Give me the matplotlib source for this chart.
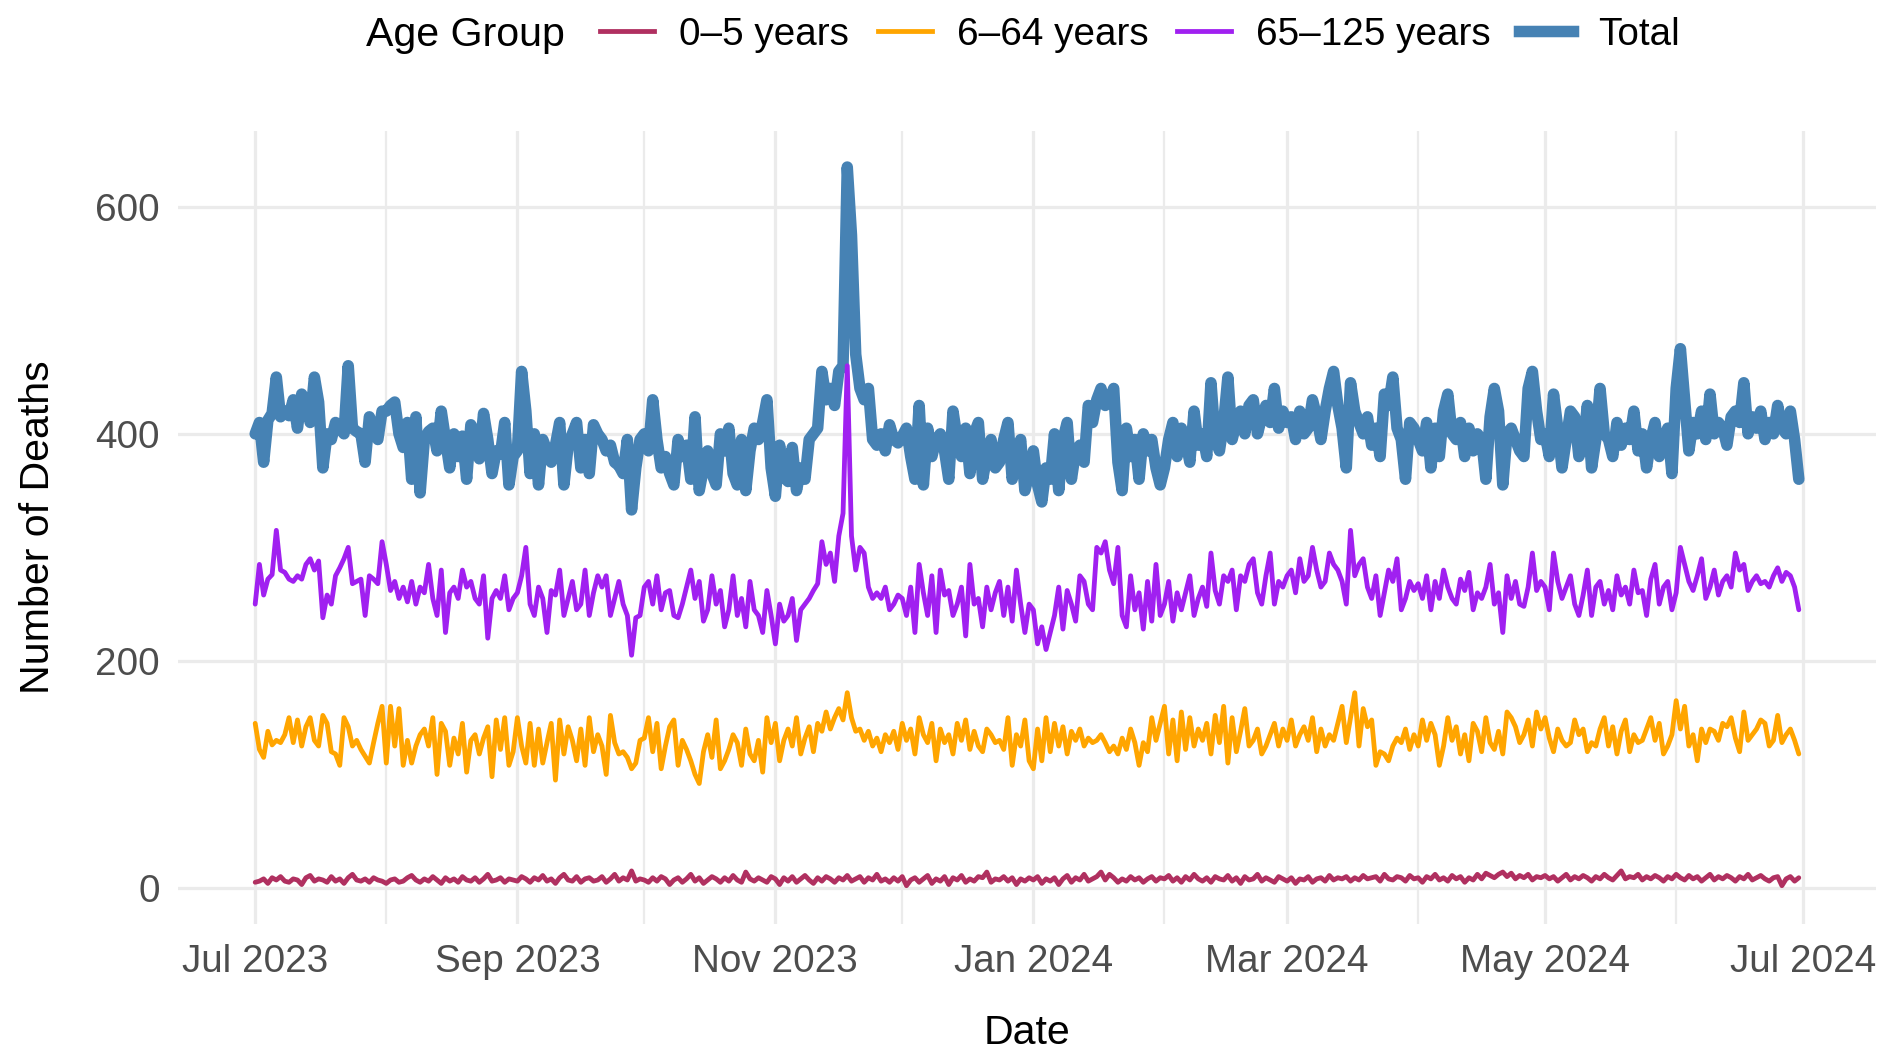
import numpy as np
import pandas as pd
import matplotlib
matplotlib.use("Agg")
import matplotlib.pyplot as plt
import matplotlib.dates as mdates
from matplotlib.lines import Line2D

# ---------------- data (daily deaths, 2023-07-01 .. 2024-06-30) ----------------
start_date = "2023-07-01"

deaths_total = [
    # Jul
    400,410,375,412,418,450,415,420,416,430,405,435,428,410,450,428,370,400,395,410,405,400,460,405,402,400,375,415,405,395,420,
    # Aug
    420,425,428,400,388,410,360,415,348,395,402,405,385,420,395,370,400,380,398,360,408,400,378,418,395,365,385,382,410,355,380,
    # Sep
    385,455,420,365,400,355,395,385,375,390,410,355,390,400,410,370,395,365,408,400,395,385,390,375,372,365,395,333,370,395,
    # Oct
    400,385,430,395,370,380,365,355,395,380,390,360,415,350,370,385,365,355,400,385,405,365,355,395,350,385,405,395,410,430,370,
    # Nov
    345,390,362,358,388,350,370,360,395,400,405,455,430,440,425,455,460,635,575,470,440,430,440,395,390,400,385,408,395,392,
    # Dec
    398,405,380,360,425,355,405,380,395,400,385,360,420,395,380,405,365,400,410,360,380,395,370,375,395,410,360,380,395,350,365,
    # Jan
    385,355,340,370,360,400,350,395,410,360,385,390,375,425,410,430,440,425,430,440,375,350,405,380,395,360,400,385,395,370,355,
    # Feb
    370,395,410,380,405,395,375,420,390,400,380,445,395,385,410,450,395,410,420,400,425,430,400,415,425,410,440,405,420,
    # Mar
    410,415,395,420,400,405,430,415,395,420,440,455,425,405,370,445,420,410,400,415,390,405,380,435,425,450,405,395,360,410,405,
    # Apr
    395,385,410,370,405,380,420,435,400,395,410,380,405,385,400,395,360,415,440,420,355,400,405,395,385,380,440,455,420,395,
    # May
    400,380,435,405,370,395,420,415,380,390,425,370,395,440,400,395,380,410,390,405,395,420,385,400,370,395,410,380,395,405,365,
    # Jun
    440,475,430,385,410,400,420,395,435,400,410,405,390,415,420,410,445,400,415,405,420,395,410,400,425,405,400,420,395,360,
]

deaths_65_125 = [
    250,285,258,272,276,315,280,278,272,270,275,272,285,290,280,288,238,258,250,275,282,290,300,268,270,272,240,275,272,268,305,
    285,262,270,255,265,252,270,250,265,260,285,255,240,280,225,260,265,255,280,265,270,255,250,275,220,255,262,255,275,245,255,
    260,275,300,250,240,265,255,225,262,258,280,240,255,270,245,250,280,240,260,275,265,275,240,255,270,250,240,205,238,240,
    265,270,250,275,245,260,262,240,238,250,265,280,255,270,235,245,275,250,262,230,245,275,240,255,230,270,245,240,225,262,240,
    215,250,235,240,255,218,245,250,255,262,268,305,285,295,270,310,330,460,310,280,300,295,265,255,260,255,265,245,250,258,
    255,240,265,225,285,260,240,275,225,280,258,262,240,250,265,222,285,250,255,230,265,245,260,270,240,265,235,280,250,225,250,
    245,215,230,210,225,240,265,228,262,250,235,275,270,250,245,300,295,305,280,268,300,240,230,275,245,260,228,270,235,285,240,
    250,270,235,260,245,260,275,240,255,265,248,295,262,250,275,270,280,245,275,270,285,290,260,250,275,295,250,270,265,
    275,280,260,290,270,275,300,280,265,270,295,285,280,270,250,315,275,285,290,265,255,275,240,260,280,270,290,245,255,270,262,
    268,255,275,245,270,255,280,265,255,250,272,262,278,245,260,255,265,285,250,260,225,275,255,270,250,248,265,295,262,270,
    265,245,295,270,255,265,275,250,240,258,280,240,265,270,250,262,245,275,258,265,250,280,260,262,240,272,285,250,265,270,245,
    260,300,285,270,262,275,290,255,265,280,258,270,275,265,295,280,285,262,270,275,268,270,265,275,282,270,278,275,265,245,
]

deaths_6_64 = [
    145,122,115,138,126,130,128,135,150,128,148,125,142,150,130,125,152,145,120,118,108,150,142,125,130,122,116,110,128,145,160,
    110,160,125,158,108,130,110,125,135,140,125,150,100,145,138,108,132,118,145,102,130,135,118,132,142,98,148,122,150,108,120,
    150,125,110,145,108,140,110,128,145,95,148,118,142,130,112,140,108,150,120,135,125,100,152,128,118,120,115,105,110,130,
    132,150,120,145,105,125,142,148,108,130,122,112,100,92,120,135,115,148,105,112,122,135,128,108,140,118,112,130,102,150,128,
    145,112,130,140,125,150,118,132,142,120,145,138,155,140,150,158,148,172,150,138,140,130,138,125,132,120,135,128,138,122,
    145,130,140,118,150,135,128,145,112,140,128,135,118,145,130,148,122,138,125,120,140,135,128,130,122,150,108,135,125,148,112,
    105,140,112,150,120,145,125,142,118,138,130,140,125,132,128,130,135,128,120,125,118,132,122,140,128,108,128,120,150,130,145,
    160,118,148,112,155,122,150,125,140,130,145,118,152,128,160,110,150,120,138,158,125,130,140,118,125,135,145,125,140,
    130,148,125,135,142,130,150,120,140,125,135,130,145,160,128,150,172,125,158,142,148,108,120,118,112,125,132,128,140,122,135,
    125,148,130,145,135,108,125,150,130,142,118,135,112,145,138,120,150,128,122,138,118,155,150,142,128,135,148,125,155,140,
    150,132,120,140,130,125,128,148,135,140,120,128,125,140,150,125,142,118,138,148,120,135,128,130,140,150,130,145,118,125,135,
    165,140,160,125,135,112,140,128,140,138,130,145,142,150,132,120,155,130,135,140,148,145,125,130,152,128,135,140,130,118,
]

deaths_0_5 = [
    5,6,8,4,9,7,10,6,5,8,7,3,9,11,6,8,7,5,10,6,8,4,9,12,7,6,8,5,9,7,6,
    4,7,8,5,6,9,11,7,5,8,6,10,7,4,9,6,8,5,10,7,6,9,5,8,12,6,7,9,5,8,7,
    6,10,8,5,9,7,11,6,8,4,9,12,7,6,10,5,8,9,6,7,10,5,8,12,6,9,7,15,6,8,
    7,5,9,6,10,8,3,7,9,5,8,12,6,9,4,7,10,8,5,9,6,11,7,5,14,8,6,9,7,5,10,
    8,3,9,6,10,5,8,11,7,4,9,6,10,8,5,9,7,11,6,8,10,5,9,7,12,6,8,5,9,6,
    10,2,7,9,5,8,11,4,8,6,10,3,9,7,11,5,8,6,10,9,14,5,8,7,10,6,9,3,8,6,9,
    7,10,4,8,6,9,3,8,11,5,9,7,12,6,8,10,14,7,12,9,5,8,6,10,7,9,5,8,10,6,9,
    8,11,6,9,5,10,7,12,8,6,9,5,10,8,7,11,6,9,4,10,7,8,12,6,9,7,5,10,8,
    6,9,4,8,7,10,5,8,9,6,11,7,9,8,10,6,9,7,11,8,9,10,6,12,8,7,10,9,6,11,8,
    9,5,10,8,12,7,9,6,11,8,10,5,9,7,12,8,13,11,9,12,14,10,13,8,11,9,12,7,10,9,
    11,8,10,6,9,12,7,10,8,11,9,6,10,8,12,9,7,11,15,8,10,9,12,7,10,8,11,9,6,10,8,
    12,9,7,11,8,10,6,9,12,7,10,8,11,9,6,10,8,12,7,9,11,8,6,9,10,2,8,10,6,9,
]

series_labels = ["0\u20135 years", "6\u201364 years", "65\u2013125 years", "Total"]
y_ticks = [0, 200, 400, 600]
x_major = ["2023-07-01", "2023-09-01", "2023-11-01", "2024-01-01", "2024-03-01", "2024-05-01", "2024-07-01"]
x_minor = ["2023-08-01", "2023-10-01", "2023-12-01", "2024-02-01", "2024-04-01", "2024-06-01"]

# ---------------- styling ----------------
colors = {"0\u20135 years": "#B03060", "6\u201364 years": "#FFA500",
          "65\u2013125 years": "#A020F0", "Total": "#4682B4"}
plt.rcParams["font.family"] = ["Liberation Sans", "DejaVu Sans"]

DPI = 200
fig = plt.figure(figsize=(1892 / DPI, 1062 / DPI), dpi=DPI)
ax = fig.add_axes([178 / 1892, 1 - 924 / 1062, (1876 - 178) / 1892, (924 - 131) / 1062])

def px(p):
    return p * 72.0 / DPI

THIN = 4.8
THICK = 11.5

data = {
    "0\u20135 years": deaths_0_5,
    "6\u201364 years": deaths_6_64,
    "65\u2013125 years": deaths_65_125,
    "Total": deaths_total,
}

# Total drawn underneath, thin series above
for lab, z, lw in [("Total", 2, THICK), ("0\u20135 years", 3, THIN),
                   ("6\u201364 years", 3, THIN), ("65\u2013125 years", 3, THIN)]:
    vals = data[lab]
    d = pd.date_range(start_date, periods=len(vals), freq="D")
    ax.plot(d, vals, color=colors[lab], lw=px(lw), zorder=z,
            solid_joinstyle="round", solid_capstyle="round")

t0 = pd.Timestamp(start_date)
t1 = t0 + pd.Timedelta(days=len(deaths_total) - 1)
span = (t1 - t0).days
pad = pd.Timedelta(days=span * 0.05)
ax.set_xlim(t0 - pad, t1 + pad)
ymax = max(deaths_total)
ax.set_ylim(-0.05 * ymax, ymax * 1.05)

ax.set_yticks(y_ticks)
ax.set_xticks([pd.Timestamp(s) for s in x_major])
ax.set_xticks([pd.Timestamp(s) for s in x_minor], minor=True)
ax.xaxis.set_major_formatter(mdates.DateFormatter("%b %Y"))

for s in ax.spines.values():
    s.set_visible(False)
ax.tick_params(axis="both", which="both", length=0)
ax.tick_params(axis="x", which="major", labelsize=13.9, labelcolor="#4D4D4D", pad=px(20))
ax.tick_params(axis="y", which="major", labelsize=13.9, labelcolor="#4D4D4D", pad=px(18))

ax.grid(which="major", axis="both", color="#EBEBEB", lw=px(3.2), zorder=0)
ax.grid(which="minor", axis="x", color="#EBEBEB", lw=px(2.2), zorder=0)
ax.set_axisbelow(True)

ax.set_xlabel("Date", fontsize=14.8, color="black")
ax.set_ylabel("Number of Deaths", fontsize=14.8, color="black")
ax.xaxis.set_label_coords(0.5, (924 - 1033) / 793)
ax.xaxis.label.set_va("center")
ax.yaxis.set_label_coords((38 - 178) / 1698, 0.5)
ax.yaxis.label.set_va("center")

# legend on top, title on the left
handles = [Line2D([0], [0], color=colors[l], lw=px(THICK if l == "Total" else THIN)) for l in series_labels]
fig.text(366 / 1892, 1 - 35 / 1062, "Age Group", fontsize=14.8, ha="left", va="center")
leg = fig.legend(handles, series_labels, loc="center left", ncol=4,
                 bbox_to_anchor=(600 / 1892, 1 - 35 / 1062), frameon=False,
                 fontsize=13.9, handlelength=1.4, handletextpad=0.65,
                 columnspacing=0.74, borderaxespad=0, borderpad=0)

fig.savefig("out.png", dpi=DPI, facecolor="white")
